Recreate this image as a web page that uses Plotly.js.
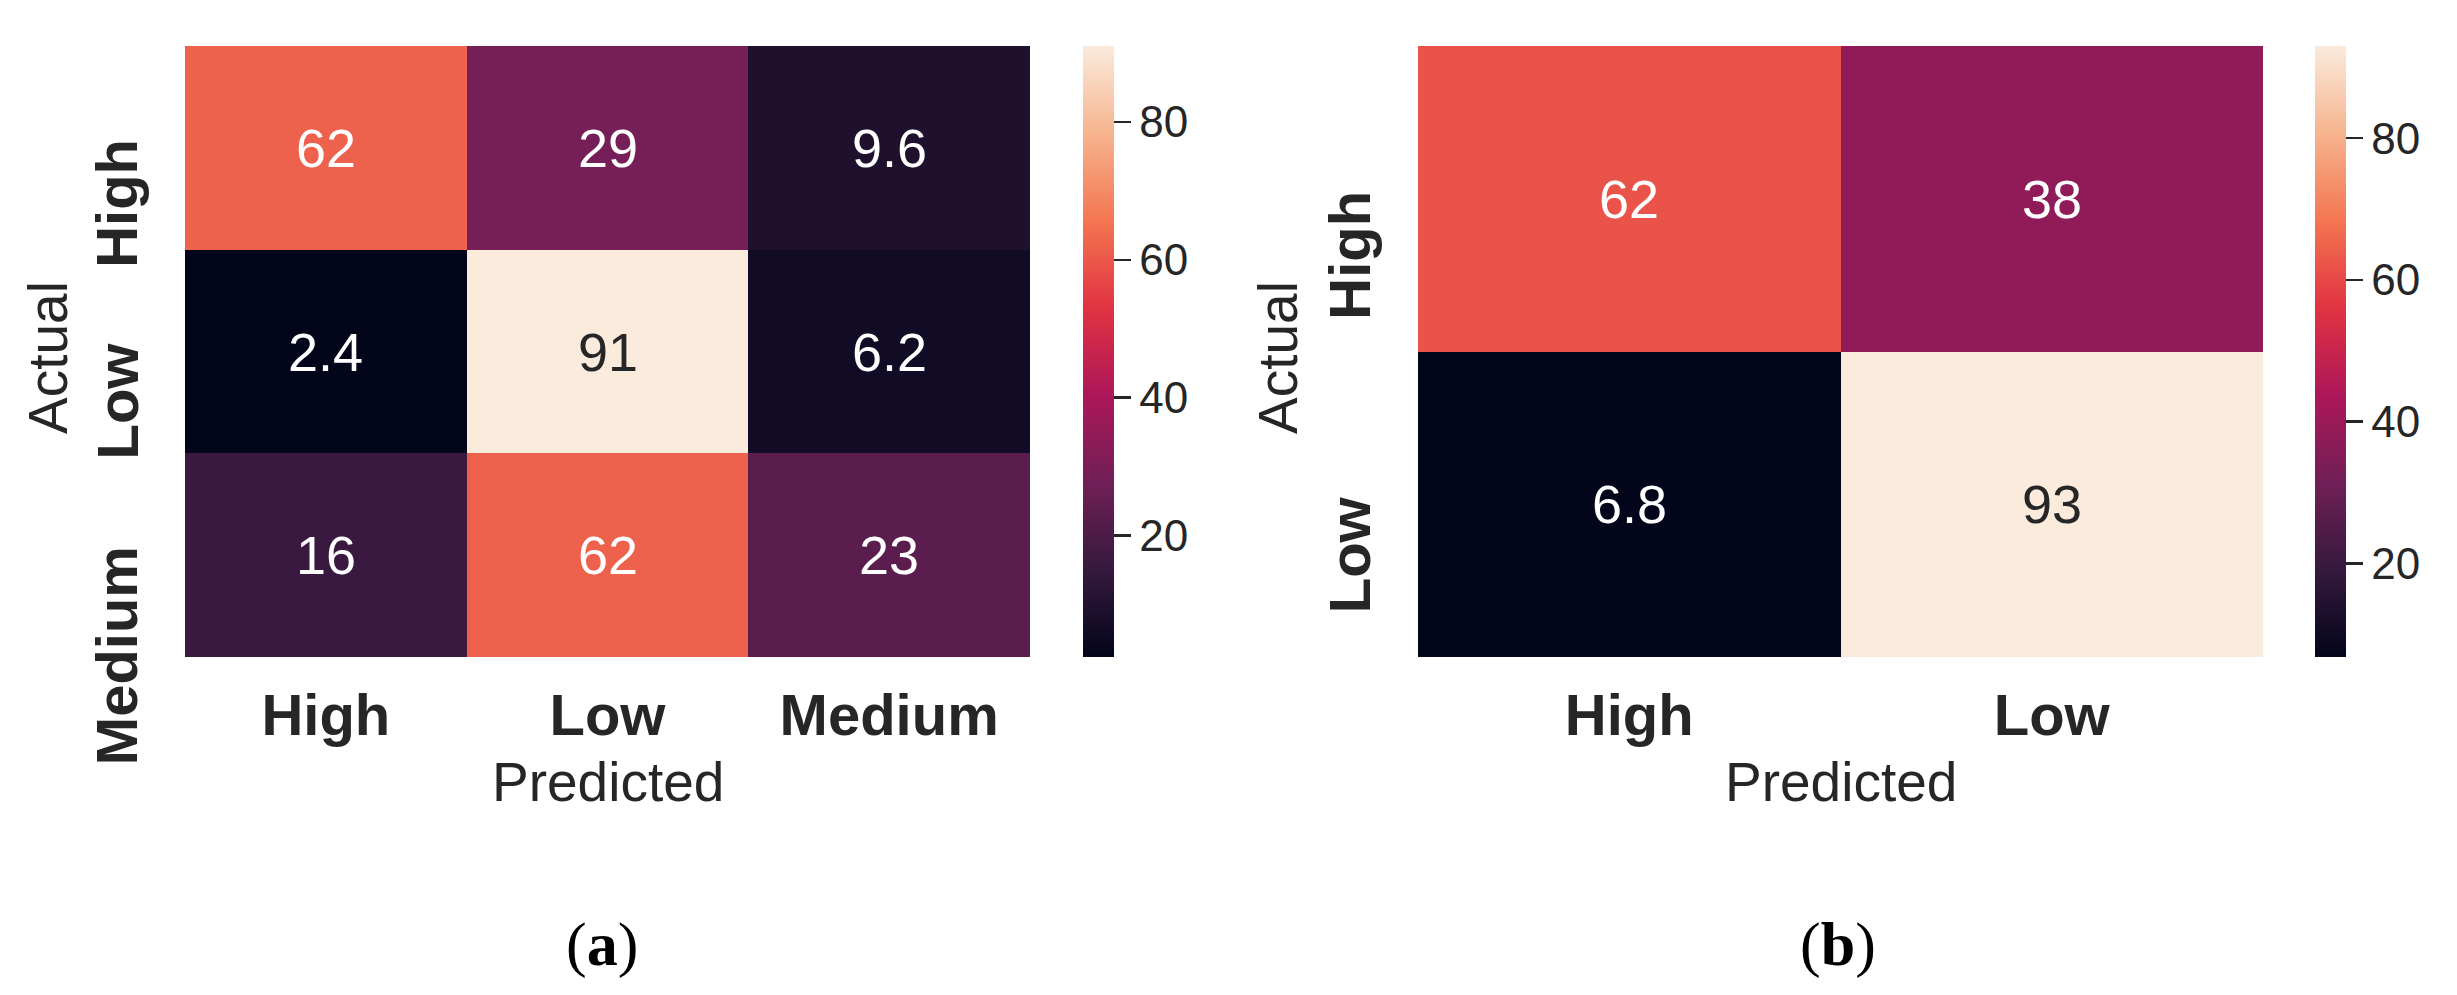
<!DOCTYPE html>
<html>
<head>
<meta charset="utf-8">
<script src="https://cdn.plot.ly/plotly-3.0.1.min.js"></script>
<style>html,body{margin:0;padding:0;background:#fff;}#chart{width:2457px;height:995px;}</style>
</head>
<body>
<div id="chart"></div>
<script>
// ---- data ----
const classesA = ['High', 'Low', 'Medium'];
const rowHighA = [62, 29, 9.6];
const rowLowA = [2.4, 91, 6.2];
const rowMediumA = [16, 62, 23];

const classesB = ['High', 'Low'];
const rowHighB = [62, 38];
const rowLowB = [6.8, 93];

const colorbarTicks = [20, 40, 60, 80];
const captionA = '(<b>a</b>)';
const captionB = '(<b>b</b>)';
const xTitle = 'Predicted';
const yTitle = 'Actual';

// ---- style ----
const W = 2457, H = 995;
const FONT = 'Liberation Sans, Arial, sans-serif';
const DARK = '#262626';
const rocket = [
  [0.0, '#03051a'],
  [1/7, '#35193e'],
  [2/7, '#701f57'],
  [3/7, '#ad1759'],
  [4/7, '#e13342'],
  [5/7, '#f37651'],
  [6/7, '#f6b48f'],
  [1.0, '#faebdd']
];

const zA = [rowHighA, rowLowA, rowMediumA];
const zB = [rowHighB, rowLowB];
function minOf(z) { return Math.min.apply(null, z.flat()); }
function maxOf(z) { return Math.max.apply(null, z.flat()); }

const yDom = [1 - 657 / H, 1 - 46 / H];
const cbLen = yDom[1] - yDom[0];
const cbY = (yDom[0] + yDom[1]) / 2;

function cb(xLeftPx) {
  return {
    x: xLeftPx / W, xanchor: 'left', xref: 'paper', xpad: 0,
    y: cbY, yanchor: 'middle', yref: 'paper', ypad: 0,
    len: cbLen, lenmode: 'fraction',
    thickness: 31, thicknessmode: 'pixels',
    outlinewidth: 0, borderwidth: 0,
    tickmode: 'array', tickvals: colorbarTicks,
    ticks: 'outside', ticklen: 17, tickwidth: 2.5, tickcolor: DARK,
    tickprefix: '\u00a0',
    tickfont: { family: FONT, size: 44, color: DARK }
  };
}

const traceA = {
  type: 'heatmap', x: classesA, y: classesA, z: zA,
  zmin: minOf(zA), zmax: maxOf(zA),
  colorscale: rocket, xaxis: 'x', yaxis: 'y',
  colorbar: cb(1083), hoverinfo: 'skip'
};
const traceB = {
  type: 'heatmap', x: classesB, y: classesB, z: zB,
  zmin: minOf(zB), zmax: maxOf(zB),
  colorscale: rocket, xaxis: 'x2', yaxis: 'y2',
  colorbar: cb(2315), hoverinfo: 'skip'
};

function xAxis(dom, cats, anchor) {
  return {
    domain: dom, anchor: anchor, type: 'category', categoryorder: 'array', categoryarray: cats,
    range: [-0.5, cats.length - 0.5], autorange: false,
    showgrid: false, zeroline: false, showline: false, ticks: '',
    ticklabelstandoff: 19,
    tickfont: { family: FONT, size: 58, color: DARK, weight: 'bold' },
    fixedrange: true
  };
}
function yAxis(cats, anchor) {
  return {
    domain: yDom, anchor: anchor, type: 'category', categoryorder: 'array', categoryarray: cats,
    range: [cats.length - 0.5, -0.5], autorange: false,
    showgrid: false, zeroline: false, showline: false, ticks: '',
    showticklabels: false, fixedrange: true
  };
}

const annotations = [];
function cellLabels(z, cats, xr, yr, vmax) {
  z.forEach(function (row, i) {
    row.forEach(function (v, j) {
      annotations.push({
        xref: xr, yref: yr, x: j, y: i, text: String(v), showarrow: false,
        font: { family: FONT, size: 54, color: v > 0.8 * vmax ? DARK : '#ffffff' }
      });
    });
  });
}
cellLabels(zA, classesA, 'x', 'y', maxOf(zA));
cellLabels(zB, classesB, 'x2', 'y2', maxOf(zB));

function yTickLabels(cats, xr, yr, shiftUp) {
  cats.forEach(function (c, i) {
    annotations.push({
      xref: xr + ' domain', yref: yr, x: 0, y: i, xanchor: 'right', yanchor: 'top',
      xshift: -34, yshift: shiftUp, textangle: -90, text: c, showarrow: false,
      font: { family: FONT, size: 58, color: DARK, weight: 'bold' }
    });
  });
}
yTickLabels(classesA, 'x', 'y', 11);
yTickLabels(classesB, 'x2', 'y2', 10);

function titles(xr, actualXpx) {
  annotations.push({
    xref: xr + ' domain', yref: 'paper', x: 0.5, y: 1 - 782 / H, xanchor: 'center', yanchor: 'middle',
    text: xTitle, showarrow: false, font: { family: FONT, size: 55, color: DARK }
  });
  annotations.push({
    xref: 'paper', yref: 'paper', x: actualXpx / W, y: 1 - 358 / H, xanchor: 'center', yanchor: 'middle',
    textangle: -90, text: yTitle, showarrow: false, font: { family: FONT, size: 55, color: DARK }
  });
}
titles('x', 48);
titles('x2', 1278);

annotations.push({
  xref: 'paper', yref: 'paper', x: 602 / W, y: 1 - 944 / H, xanchor: 'center', yanchor: 'middle',
  text: captionA, showarrow: false, font: { family: 'Liberation Serif, Times New Roman, serif', size: 62, color: '#000000' }
});
annotations.push({
  xref: 'paper', yref: 'paper', x: 1838 / W, y: 1 - 944 / H, xanchor: 'center', yanchor: 'middle',
  text: captionB, showarrow: false, font: { family: 'Liberation Serif, Times New Roman, serif', size: 62, color: '#000000' }
});

const layout = {
  width: W, height: H,
  margin: { l: 0, r: 0, t: 0, b: 0, pad: 0 },
  paper_bgcolor: '#ffffff', plot_bgcolor: '#ffffff',
  showlegend: false,
  xaxis: xAxis([185 / W, 1030 / W], classesA, 'y'),
  yaxis: yAxis(classesA, 'x'),
  xaxis2: xAxis([1418 / W, 2263 / W], classesB, 'y2'),
  yaxis2: yAxis(classesB, 'x2'),
  annotations: annotations,
  font: { family: FONT, color: DARK }
};

Plotly.newPlot('chart', [traceA, traceB], layout, { displayModeBar: false, staticPlot: true });
</script>
</body>
</html>
